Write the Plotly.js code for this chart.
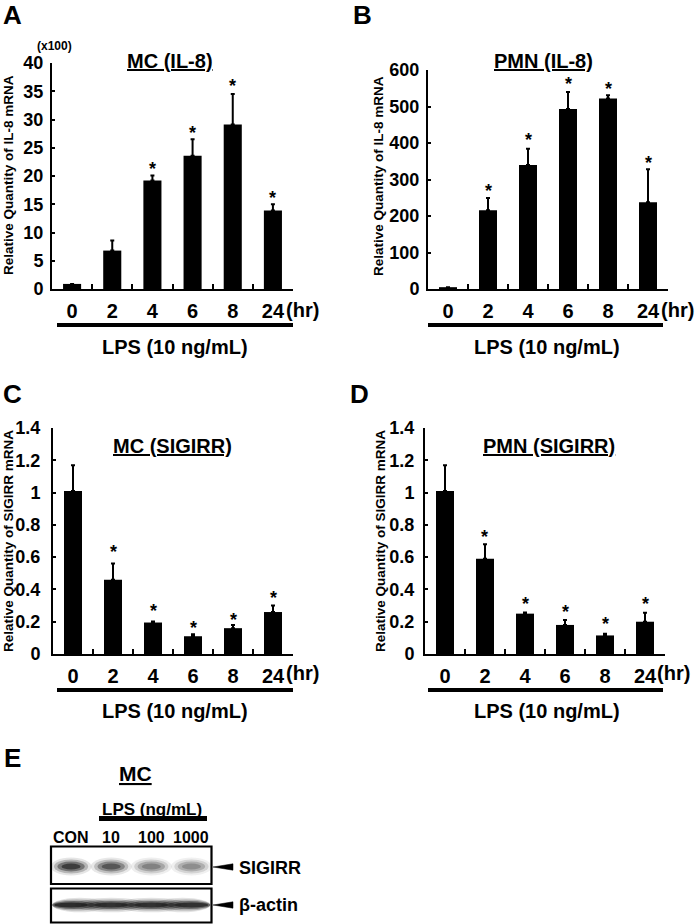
<!DOCTYPE html>
<html><head><meta charset="utf-8">
<script src="https://cdn.plot.ly/plotly-3.0.1.min.js"></script>
<style>html,body{margin:0;padding:0;background:#fff}</style>
</head><body><div id="chart" style="width:700px;height:924px"></div>
<script>
// ---- data ----
const timePoints = ['0', '2', '4', '6', '8', '24'];
const mcIL8 = [0.9, 6.8, 19.2, 23.6, 29.1, 13.9];
const mcIL8Err = [0, 1.8, 0.9, 2.9, 5.4, 1.1];
const mcIL8Star = [null, null, 21.9, 28.4, 36.7, 16.8];
const pmnIL8 = [5, 216, 340, 493, 522, 238];
const pmnIL8Err = [0, 33, 44, 47, 9, 90];
const pmnIL8Star = [null, 280, 419, 572, 558, 355];
const mcSIGIRR = [1.01, 0.46, 0.195, 0.11, 0.16, 0.26];
const mcSIGIRRErr = [0.16, 0.10, 0.006, 0.012, 0.02, 0.04];
const mcSIGIRRStar = [null, 0.655, 0.289, 0.186, 0.235, 0.372];
const pmnSIGIRR = [1.01, 0.59, 0.25, 0.18, 0.115, 0.20];
const pmnSIGIRRErr = [0.16, 0.09, 0.007, 0.03, 0.01, 0.055];
const pmnSIGIRRStar = [null, 0.748, 0.335, 0.283, 0.211, 0.335];
const blotLanes = ['CON', '10', '100', '1000'];
const sigirrIntensity = [0.85, 0.74, 0.55, 0.5];
const actinIntensity = [0.92, 0.9, 0.9, 0.9];

// ---- helpers ----
const W = 700, H = 924;
const px = x => x / W;
const py = y => 1 - y / H;
const FONT = 'Liberation Sans, Arial, sans-serif';
const bold = (size, color) => ({family: FONT, size: size, color: color || '#000', weight: 'bold'});

function xAxis(x0, x1, anchor) {
  return {
    domain: [px(x0), px(x1)], anchor: anchor, type: 'category',
    range: [-0.5, 5.5], tickson: 'boundaries', ticks: 'inside', ticklen: 5, tickwidth: 2,
    tickcolor: '#000', showline: true, linewidth: 2, linecolor: '#000',
    showgrid: false, zeroline: false, tickfont: bold(20), ticklabelstandoff: 3, fixedrange: true
  };
}
function yAxis(y0, y1, anchor, range, dtick, standoff) {
  return {
    domain: [py(y0), py(y1)], anchor: anchor, range: range, dtick: dtick, tick0: 0,
    ticks: 'inside', ticklen: 3, tickwidth: 2, tickcolor: '#000',
    showline: true, linewidth: 2, linecolor: '#000', showgrid: false, zeroline: false,
    tickfont: bold(18), ticklabelstandoff: standoff, fixedrange: true
  };
}
function barTrace(vals, errs, xa, ya) {
  return {
    type: 'bar', x: timePoints, y: vals, xaxis: xa, yaxis: ya, width: 0.45,
    marker: {color: '#000', line: {width: 0}}, hoverinfo: 'none',
    error_y: {type: 'data', symmetric: false, array: errs, arrayminus: vals.map(() => 0),
              color: '#000', thickness: 2, width: 2}
  };
}

const traces = [
  barTrace(mcIL8, mcIL8Err, 'x', 'y'),
  barTrace(pmnIL8, pmnIL8Err, 'x2', 'y2'),
  barTrace(mcSIGIRR, mcSIGIRRErr, 'x3', 'y3'),
  barTrace(pmnSIGIRR, pmnSIGIRRErr, 'x4', 'y4'),
  {type: 'scatter', x: [0], y: [0], xaxis: 'x5', yaxis: 'y5', mode: 'markers',
   marker: {opacity: 0}, hoverinfo: 'none'}
];

const annotations = [];
const shapes = [];
function txt(x, y, text, font, opts) {
  annotations.push(Object.assign({xref: 'paper', yref: 'paper', x: px(x), y: py(y), text: text,
    showarrow: false, font: font, xanchor: 'center', yanchor: 'middle'}, opts || {}));
}

// stars
[[mcIL8Star, 'x', 'y'], [pmnIL8Star, 'x2', 'y2'], [mcSIGIRRStar, 'x3', 'y3'], [pmnSIGIRRStar, 'x4', 'y4']]
  .forEach(([stars, xa, ya]) => {
    stars.forEach((s, i) => {
      if (s === null) return;
      annotations.push({xref: xa, yref: ya, x: i, y: s, text: '*', showarrow: false,
        font: bold(18), xanchor: 'center', yanchor: 'middle', yshift: -4});
    });
  });

// panel letters
txt(12, 15, 'A', bold(26));
txt(362, 15, 'B', bold(26));
txt(12, 394, 'C', bold(26));
txt(360, 394, 'D', bold(26));
txt(12, 758, 'E', bold(26));

// titles
txt(170, 61, '<u>MC (IL-8)</u>', bold(20));
txt(543, 61, '<u>PMN (IL-8)</u>', bold(20));
txt(172, 446, '<u>MC (SIGIRR)</u>', bold(20));
txt(549, 446, '<u>PMN (SIGIRR)</u>', bold(20));
txt(54, 46, '(x100)', bold(12));

// y titles
txt(8, 175, 'Relative Quantity of IL-8 mRNA', bold(13.5), {textangle: -90});
txt(378, 176, 'Relative Quantity of IL-8 mRNA', bold(13.5), {textangle: -90});
txt(8, 541, 'Relative Quantity of SIGIRR mRNA', bold(13.5), {textangle: -90});
txt(380, 541, 'Relative Quantity of SIGIRR mRNA', bold(13.5), {textangle: -90});

// (hr)
txt(284, 310, '(hr)', bold(20), {xanchor: 'left'});
txt(659, 310, '(hr)', bold(20), {xanchor: 'left'});
txt(284, 673, '(hr)', bold(20), {xanchor: 'left'});
txt(655, 673, '(hr)', bold(20), {xanchor: 'left'});

// LPS lines + labels
[[57, 293, 325], [428, 663, 325], [57, 293, 690], [428, 663, 690]].forEach(([a, b, y]) => {
  shapes.push({type: 'line', xref: 'paper', yref: 'paper', x0: px(a), x1: px(b), y0: py(y), y1: py(y),
    line: {color: '#000', width: 4}});
});
txt(175, 347, 'LPS (10 ng/mL)', bold(20));
txt(547, 347, 'LPS (10 ng/mL)', bold(20));
txt(175, 711, 'LPS (10 ng/mL)', bold(20));
txt(547, 711, 'LPS (10 ng/mL)', bold(20));

// ---- panel E (western blot) ----
txt(135, 773, '<u>MC</u>', bold(21));
txt(152, 809, 'LPS (ng/mL)', bold(17));
shapes.push({type: 'line', xref: 'paper', yref: 'paper', x0: px(99), x1: px(207), y0: py(818.5), y1: py(818.5),
  line: {color: '#000', width: 5}});
blotLanes.forEach((lab, i) => {
  annotations.push({xref: 'x5', yref: 'paper', x: i, y: py(837), text: lab, showarrow: false,
    font: bold(16), xanchor: 'center', yanchor: 'middle'});
});
function grey(v) { const g = Math.round(255 * (1 - v)); return `rgb(${g},${g},${g})`; }
const layers = [[1.5, 1.8, 0.12], [1.25, 1.4, 0.25], [1.0, 1.0, 0.45], [0.7, 0.6, 0.7]];
// SIGIRR bands
sigirrIntensity.forEach((v, i) => {
  layers.forEach(([sx, sy, op]) => {
    const hw = 0.34 * sx, hh = 5 * sy, yc = 866.5;
    shapes.push({type: 'circle', xref: 'x5', yref: 'paper', x0: i - hw, x1: i + hw,
      y0: py(yc + hh), y1: py(yc - hh), fillcolor: grey(v), opacity: op, line: {width: 0}, layer: 'below'});
  });
});
// beta-actin band
actinIntensity.forEach((v, i) => {
  layers.forEach(([sx, sy, op]) => {
    const hw = 0.6 * sx, hh = 4 * sy, yc = 905;
    shapes.push({type: 'circle', xref: 'x5', yref: 'paper', x0: Math.max(i - hw, -0.47), x1: Math.min(i + hw, 3.47),
      y0: py(yc + hh), y1: py(yc - hh), fillcolor: grey(v), opacity: op, line: {width: 0}, layer: 'below'});
  });
});
// blot frames
shapes.push({type: 'rect', xref: 'paper', yref: 'paper', x0: px(51), x1: px(211.5), y0: py(884), y1: py(846.5),
  line: {color: '#000', width: 2.2}});
shapes.push({type: 'rect', xref: 'paper', yref: 'paper', x0: px(51), x1: px(211.5), y0: py(922.5), y1: py(888.5),
  line: {color: '#000', width: 2.2}});
// arrows
function arrow(y) {
  shapes.push({type: 'path', xref: 'paper', yref: 'paper',
    path: `M ${px(213)} ${py(y)} L ${px(233)} ${py(y - 3.2)} L ${px(233)} ${py(y + 3.2)} Z`,
    fillcolor: '#000', line: {color: '#000', width: 0.5}});
}
arrow(867); arrow(905);
txt(237, 868, 'SIGIRR', bold(18), {xanchor: 'left'});
txt(237, 905, 'β-actin', bold(18), {xanchor: 'left'});

const layout = {
  width: W, height: H, margin: {l: 0, r: 0, t: 0, b: 0}, paper_bgcolor: '#fff', plot_bgcolor: 'rgba(0,0,0,0)',
  showlegend: false, font: {family: FONT, color: '#000'}, bargap: 0.55,
  xaxis: xAxis(52, 293, 'y'),
  yaxis: yAxis(289, 63, 'x', [0, 40], 5, 3),
  xaxis2: xAxis(428, 668, 'y2'),
  yaxis2: yAxis(289, 70, 'x2', [0, 600], 100, 3),
  xaxis3: xAxis(53, 293, 'y3'),
  yaxis3: yAxis(654, 428, 'x3', [0, 1.4], 0.2, 7),
  xaxis4: xAxis(425, 665, 'y4'),
  yaxis4: yAxis(654, 428, 'x4', [0, 1.4], 0.2, 5),
  xaxis5: {domain: [px(51), px(211.5)], anchor: 'y5', range: [-0.5, 3.5], visible: false, fixedrange: true},
  yaxis5: {domain: [py(922), py(846)], anchor: 'x5', range: [0, 1], visible: false, fixedrange: true},
  annotations: annotations, shapes: shapes
};
Plotly.newPlot('chart', traces, layout, {staticPlot: true, displayModeBar: false});
</script></body></html>
